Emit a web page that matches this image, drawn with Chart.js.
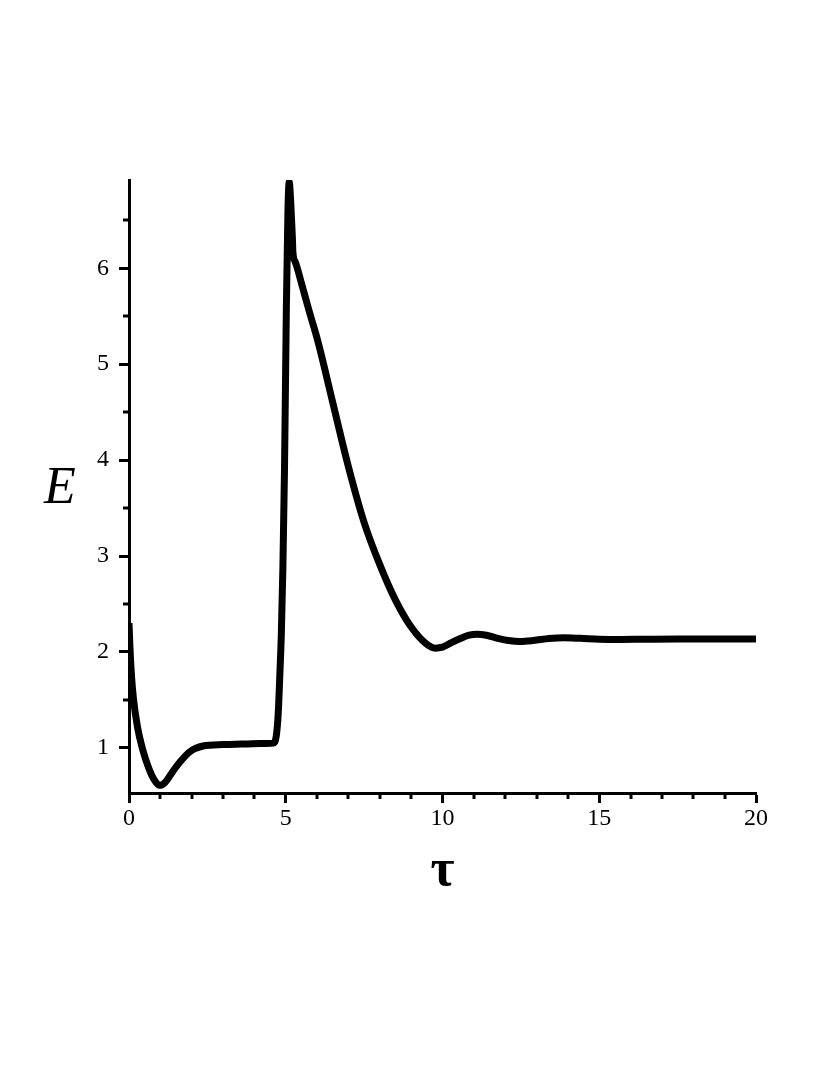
<!DOCTYPE html>
<html>
<head>
<meta charset="utf-8">
<script src="https://cdn.jsdelivr.net/npm/chart.js@4/dist/chart.umd.min.js"></script>
<style>
  html, body { margin: 0; padding: 0; background: #fff; }
  #wrap { position: relative; width: 830px; height: 1075px; }
  #fontprobe { position: absolute; left: -9999px; top: 0; font-family: 'Liberation Serif'; }
</style>
</head>
<body>
<div id="fontprobe">0123456789 <i>E</i> <b>τ</b></div>
<div id="wrap"><canvas id="c" width="830" height="1075"></canvas></div>
<script>
// ---- data ----
const tau = [0, 0.03, 0.08, 0.14, 0.27, 0.43, 0.64, 0.8, 0.98, 1.15, 1.43, 1.62, 1.94, 2.36, 3.0, 3.6, 4.2, 4.6,
             4.7, 4.76, 4.81, 4.86, 4.91, 4.96, 5.02, 5.07, 5.11, 5.16, 5.21, 5.23, 5.3, 5.35, 5.53, 5.75, 6.04,
             6.5, 7.0, 7.5, 8.0, 8.5, 9.0, 9.5, 9.77, 10.0, 10.3, 10.57, 10.85,
             11.1, 11.4, 11.8, 12.1, 12.48, 12.9, 13.4, 13.87, 14.4, 15.0, 15.6, 16.5, 17.5, 18.5, 20];
const energy = [2.30, 2.05, 1.75, 1.52, 1.22, 0.99, 0.78, 0.67, 0.61, 0.64, 0.77, 0.85, 0.96, 1.02, 1.035, 1.04, 1.045, 1.05,
             1.13, 1.36, 1.75, 2.20, 2.90, 3.90, 5.60, 6.60, 6.90, 6.68, 6.33, 6.16, 6.07, 6.02, 5.81, 5.55, 5.22,
             4.60, 3.93, 3.35, 2.91, 2.54, 2.26, 2.08, 2.04, 2.05, 2.10, 2.14, 2.175,
             2.185, 2.175, 2.14, 2.12, 2.11, 2.12, 2.14, 2.148, 2.142, 2.133, 2.13, 2.133, 2.135, 2.135, 2.135];
const xTicks = [0, 5, 10, 15, 20];
const xMinorTicks = [1, 2, 3, 4, 6, 7, 8, 9, 11, 12, 13, 14, 16, 17, 18, 19];
const yTicks = [1, 2, 3, 4, 5, 6];
const yMinorTicks = [1.5, 2.5, 3.5, 4.5, 5.5, 6.5];
const xRange = [0, 20];
const yRange = [0.53, 6.92];
const xTitle = 'τ';
const yTitle = 'E';

const FAMILY = "'Liberation Serif', 'Times New Roman', serif";
const points = tau.map((t, i) => ({ x: t, y: energy[i] }));

const minorTicksPlugin = {
  id: 'minorTicks',
  afterDraw(chart) {
    const { ctx } = chart;
    const xs = chart.scales.x, ys = chart.scales.y;
    ctx.save();
    ctx.strokeStyle = '#000';
    ctx.lineWidth = 3;
    xMinorTicks.forEach(v => {
      const px = Math.round(xs.getPixelForValue(v));
      ctx.beginPath();
      ctx.moveTo(px, xs.top);
      ctx.lineTo(px, xs.top + 6);
      ctx.stroke();
    });
    yMinorTicks.forEach(v => {
      const py = Math.round(ys.getPixelForValue(v));
      ctx.beginPath();
      ctx.moveTo(ys.right, py);
      ctx.lineTo(ys.right - 6, py);
      ctx.stroke();
    });
    // horizontal y-axis title
    ctx.fillStyle = '#000';
    ctx.font = 'italic 52px ' + FAMILY;
    ctx.textAlign = 'center';
    ctx.textBaseline = 'alphabetic';
    ctx.fillText(yTitle, ys.left - 9, ys.getPixelForValue(3.55));
    ctx.restore();
  }
};

function draw() {
  new Chart(document.getElementById('c'), {
    type: 'line',
    data: {
      datasets: [{
        data: points,
        borderColor: '#000',
        borderWidth: 7,
        pointRadius: 0,
        fill: false,
        cubicInterpolationMode: 'monotone',
        borderCapStyle: 'butt',
        borderJoinStyle: 'round'
      }]
    },
    options: {
      responsive: false,
      animation: false,
      events: [],
      layout: { padding: { left: 69, right: 74, top: 180, bottom: 172 } },
      plugins: { legend: { display: false }, tooltip: { enabled: false } },
      scales: {
        x: {
          type: 'linear',
          min: xRange[0], max: xRange[1],
          afterBuildTicks: s => { s.ticks = xTicks.map(v => ({ value: v })); },
          afterFit: s => { s.height = 110; },
          grid: { drawOnChartArea: false, drawTicks: true, tickLength: 10, tickWidth: 3, tickColor: '#000' },
          border: { display: true, color: '#000', width: 3 },
          ticks: { color: '#000', font: { family: FAMILY, size: 24 }, padding: 1, maxRotation: 0 },
          title: { display: true, text: xTitle, color: '#000',
                   font: { family: FAMILY, size: 52, weight: 'bold' }, padding: { top: 0, bottom: 0 } }
        },
        y: {
          type: 'linear',
          min: yRange[0], max: yRange[1],
          afterBuildTicks: s => { s.ticks = yTicks.map(v => ({ value: v })); },
          afterFit: s => { s.width = 60; },
          grid: { drawOnChartArea: false, drawTicks: true, tickLength: 10, tickWidth: 3, tickColor: '#000' },
          border: { display: true, color: '#000', width: 3 },
          ticks: { color: '#000', font: { family: FAMILY, size: 24 }, padding: 10 }
        }
      }
    },
    plugins: [minorTicksPlugin]
  });
}

if (document.fonts && document.fonts.load) {
  Promise.all([
    document.fonts.load("24px 'Liberation Serif'"),
    document.fonts.load("italic 52px 'Liberation Serif'"),
    document.fonts.load("bold 52px 'Liberation Serif'")
  ]).then(draw, draw);
} else {
  draw();
}
</script>
</body>
</html>
